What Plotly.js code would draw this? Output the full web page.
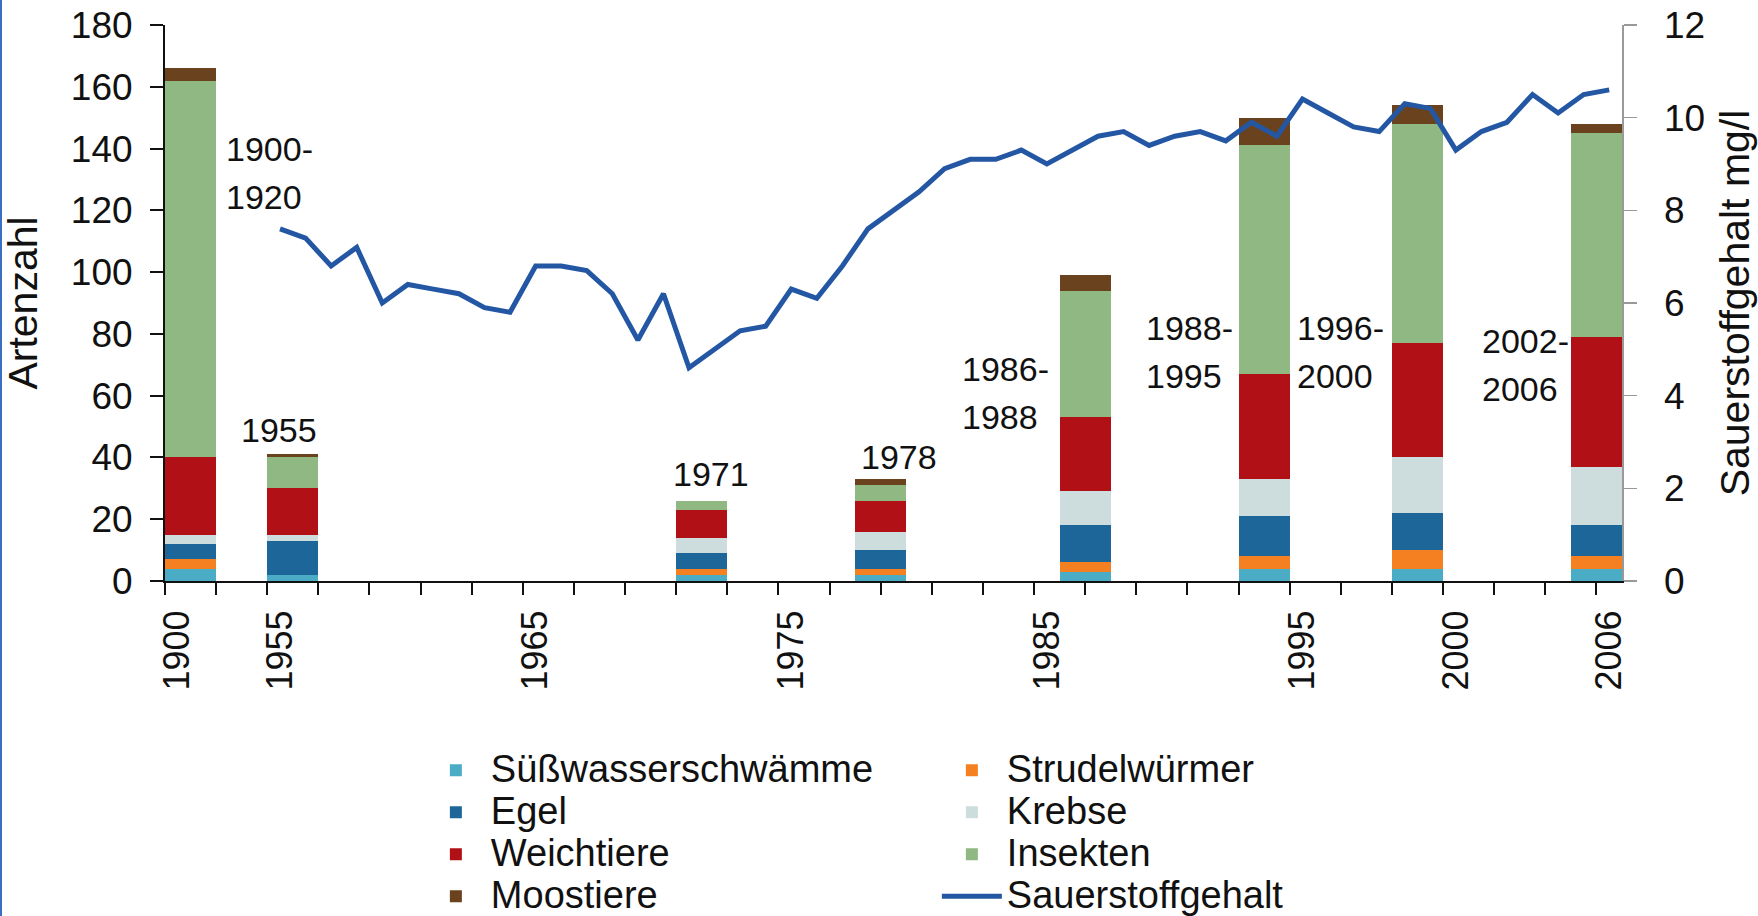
<!DOCTYPE html>
<html>
<head>
<meta charset="utf-8">
<script src="https://cdn.plot.ly/plotly-3.0.1.min.js"></script>
<style>
  html, body { margin: 0; padding: 0; background: #ffffff; }
  #chart { width: 1758px; height: 916px; }
  #edge { position: fixed; left: 0; top: 0; width: 2px; height: 916px; background: #3b6fc2; z-index: 5; }
</style>
</head>
<body>
<div id="edge"></div>
<div id="chart"></div>
<script>
// ---------- DATA ----------
// Sampling periods of the species counts (bar labels)
const periods = ['1900-1920', '1955', '1971', '1978', '1986-1988', '1988-1995', '1996-2000', '2002-2006'];
// Category slot at which each period's bar is drawn
const periodSlots = ['1900', '1955', '1971', '1978', '1986', '1993', '1999', '2005'];

// Species counts per group (Artenzahl)
const suesswasserschwaemme = [4, 2, 2, 2, 3, 4, 4, 4];
const strudelwuermer       = [3, 0, 2, 2, 3, 4, 6, 4];
const egel                 = [5, 11, 5, 6, 12, 13, 12, 10];
const krebse               = [3, 2, 5, 6, 11, 12, 18, 19];
const weichtiere           = [25, 15, 9, 10, 24, 34, 37, 42];
const insekten             = [122, 10, 3, 5, 41, 74, 71, 66];
const moostiere            = [4, 1, 0, 2, 5, 9, 6, 3];

// Oxygen content series (Sauerstoffgehalt mg/l)
const oxygenYears = ['1955','1956','1957','1958','1959','1960','1961','1962','1963','1964',
                     '1965','1966','1967','1968','1969','1970','1971','1972','1973','1974',
                     '1975','1976','1977','1978','1979','1980','1981','1982','1983','1984',
                     '1985','1986','1987','1988','1989','1990','1991','1992','1993','1994',
                     '1995','1996','1997','1998','1999','1999b','2000','2001','2002','2003',
                     '2004','2005','2006'];
const oxygen = [7.6, 7.4, 6.8, 7.2, 6.0, 6.4, 6.3, 6.2, 5.9, 5.8,
                6.8, 6.8, 6.7, 6.2, 5.2, 6.2, 4.6, 5.0, 5.4, 5.5,
                6.3, 6.1, 6.8, 7.6, 8.0, 8.4, 8.9, 9.1, 9.1, 9.3,
                9.0, 9.3, 9.6, 9.7, 9.4, 9.6, 9.7, 9.5, 9.9, 9.6,
                10.4, 10.1, 9.8, 9.7, 10.3, 10.2, 9.3, 9.7, 9.9, 10.5,
                10.1, 10.5, 10.6];

// Category slots of the x axis (the early period occupies four slots)
const earlySlots = ['1900', '1900/2', '1900/3', '1900/4'];
const slots = earlySlots.concat(oxygenYears);

// Labels shown on the x axis
const xTickSlots  = ['1900', '1955', '1965', '1975', '1985', '1995', '2000', '2006'];
const xTickLabels = ['1900', '1955', '1965', '1975', '1985', '1995', '2000', '2006'];

const groupNames = ['Süßwasserschwämme', 'Strudelwürmer', 'Egel', 'Krebse', 'Weichtiere', 'Insekten', 'Moostiere'];
const groupValues = [suesswasserschwaemme, strudelwuermer, egel, krebse, weichtiere, insekten, moostiere];
const lineName = 'Sauerstoffgehalt';

// ---------- STYLE ----------
const groupColors = ['#4bacc6', '#f58022', '#1c6699', '#cddcdc', '#b11116', '#8fb883', '#6a421e'];
const lineColor = '#2457a3';
const FONT = 'Liberation Sans, Arial, Helvetica, sans-serif';
const legendTextSize = 38;

function legendLabel(t) {
  return '<span style="font-size:' + legendTextSize + 'px">' + t + '</span>';
}

const traces = groupNames.map((name, i) => ({
  type: 'bar',
  name: legendLabel(name),
  x: periodSlots,
  y: groupValues[i],
  xaxis: 'x',
  yaxis: 'y',
  width: 2,
  offset: -0.5,
  marker: { color: groupColors[i], line: { width: 0 } },
  hoverinfo: 'skip'
}));

traces.push({
  type: 'scatter',
  mode: 'lines',
  name: legendLabel(lineName),
  x: oxygenYears,
  y: oxygen,
  xaxis: 'x',
  yaxis: 'y2',
  line: { color: lineColor, width: 5 },
  hoverinfo: 'skip'
});

// Period labels placed next to the bars (left edges in slot units, heights in Artenzahl units)
const labelLeft = [1.8, 2.4, 19.3, 26.65, 30.6, 37.8, 43.7, 50.95];
const labelMid  = [132, 49, 34.6, 40, 61, 74, 74, 69.8];
const annotations = [];
periods.forEach((p, i) => {
  const parts = p.split('-');
  const lines = parts.length > 1 ? [parts[0] + '-', parts[1]] : [p];
  lines.forEach((t, j) => {
    const shift = lines.length > 1 ? (j === 0 ? 24 : -24) : 0;
    annotations.push({
      xref: 'x2', yref: 'y',
      x: labelLeft[i], y: labelMid[i],
      xanchor: 'left', yanchor: 'middle',
      yshift: shift,
      text: t, showarrow: false,
      font: { family: FONT, size: 34, color: '#111' }
    });
  });
});

const tickAxisBase = {
  overlaying: 'x', anchor: 'y', type: 'linear',
  range: [-0.5, 56.5], tickmode: 'linear', tick0: -0.5, dtick: 2,
  tickwidth: 2, tickcolor: '#111', showticklabels: false,
  showline: false, showgrid: false, zeroline: false, fixedrange: true
};

const layout = {
  width: 1758, height: 916,
  paper_bgcolor: '#ffffff', plot_bgcolor: '#ffffff',
  margin: { l: 165, r: 136, t: 25, b: 335 },
  font: { family: FONT, color: '#111' },
  barmode: 'stack',
  bargap: 0,
  showlegend: true,
  xaxis: {
    type: 'category', categoryorder: 'array', categoryarray: slots,
    range: [-0.5, 56.5],
    tickmode: 'array', tickvals: xTickSlots, ticktext: xTickLabels,
    ticks: '', tickangle: -90, ticklabelstandoff: 13,
    tickfont: { family: FONT, size: 36, color: '#111' },
    showline: true, linecolor: '#111', linewidth: 2,
    showgrid: false, zeroline: false, fixedrange: true
  },
  xaxis2: Object.assign({}, tickAxisBase, { side: 'bottom', ticks: 'outside', ticklen: 13 }),
  xaxis3: Object.assign({}, tickAxisBase, { side: 'bottom', ticks: 'inside', ticklen: 9 }),
  xaxis4: {
    overlaying: 'x', anchor: 'y', side: 'top', type: 'linear', range: [-0.5, 56.5],
    ticks: '', showticklabels: false, showline: true, linecolor: '#999', linewidth: 1.5,
    showgrid: false, zeroline: false, fixedrange: true
  },
  yaxis: {
    range: [0, 180], tickmode: 'linear', tick0: 0, dtick: 20,
    ticks: 'outside', ticklen: 13, tickwidth: 2, tickcolor: '#111',
    ticklabelstandoff: 10,
    tickfont: { family: FONT, size: 37, color: '#111' },
    showline: true, linecolor: '#111', linewidth: 2,
    showgrid: false, zeroline: false, fixedrange: true,
    title: { text: 'Artenzahl', font: { family: FONT, size: 41, color: '#111' }, standoff: 26 }
  },
  yaxis2: {
    overlaying: 'y', side: 'right', anchor: 'x',
    range: [0, 12], tickmode: 'linear', tick0: 0, dtick: 2,
    ticks: 'outside', ticklen: 13, tickwidth: 1.5, tickcolor: '#999',
    ticklabelstandoff: 20,
    tickfont: { family: FONT, size: 37, color: '#111' },
    showline: true, linecolor: '#999', linewidth: 1.5,
    showgrid: false, zeroline: false, fixedrange: true,
    title: { text: 'Sauerstoffgehalt mg/l', font: { family: FONT, size: 41, color: '#111' }, standoff: 22 }
  },
  legend: {
    orientation: 'h',
    xref: 'container', yref: 'container',
    x: 0.2394, y: 0.1875, xanchor: 'left', yanchor: 'top',
    entrywidth: 441, entrywidthmode: 'pixels',
    itemwidth: 60,
    traceorder: 'normal',
    font: { family: FONT, size: 30, color: '#111' },
    bgcolor: 'rgba(0,0,0,0)', borderwidth: 0
  },
  annotations: annotations
};

Plotly.newPlot('chart', traces, layout, { displayModeBar: false, staticPlot: true });
</script>
</body>
</html>
